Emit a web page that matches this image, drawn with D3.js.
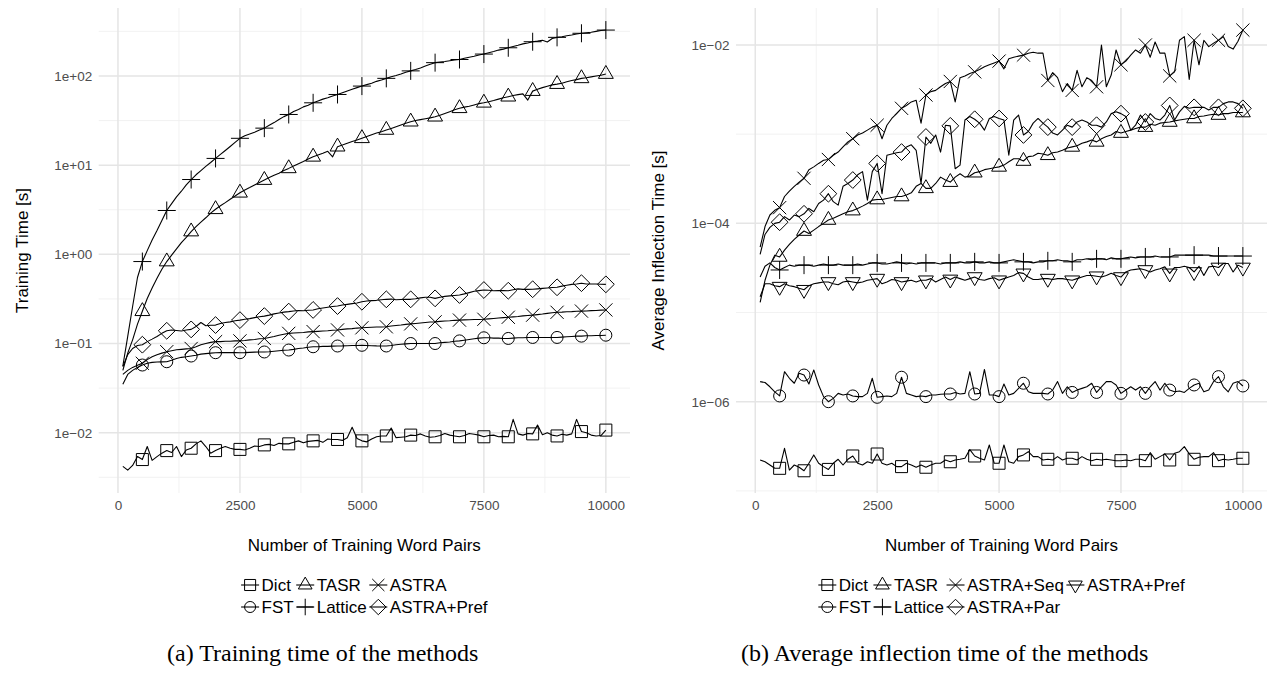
<!DOCTYPE html>
<html><head><meta charset="utf-8">
<script src="https://cdn.jsdelivr.net/npm/d3@7/dist/d3.min.js"></script>
<style>
html,body{margin:0;padding:0;background:#fff;}
svg{display:block;}
</style></head><body>
<svg id="chart" width="1270" height="673"></svg>
<script>
// ---------- DATA ----------
const trainingPairs = [100,200,300,400,500,600,700,800,900,1000,
1100,1200,1300,1400,1500,1600,1700,1800,1900,2000,
2100,2200,2300,2400,2500,2600,2700,2800,2900,3000,
3100,3200,3300,3400,3500,3600,3700,3800,3900,4000,
4100,4200,4300,4400,4500,4600,4700,4800,4900,5000,
5100,5200,5300,5400,5500,5600,5700,5800,5900,6000,
6100,6200,6300,6400,6500,6600,6700,6800,6900,7000,
7100,7200,7300,7400,7500,7600,7700,7800,7900,8000,
8100,8200,8300,8400,8500,8600,8700,8800,8900,9000,
9100,9200,9300,9400,9500,9600,9700,9800,9900,10000];

const xTicks = [0, 2500, 5000, 7500, 10000];
const xMinorTicks = [1250, 3750, 6250, 8750];

// (a) Training time [s]
const trainDict = [0.0042,0.0038,0.0043,0.0054,0.0050,0.0070,0.0049,0.0054,0.0059,0.0063,
0.0060,0.0070,0.0054,0.0064,0.0067,0.0075,0.0081,0.0070,0.0059,0.0063,
0.0067,0.0070,0.0067,0.0065,0.0065,0.0064,0.0067,0.0071,0.0070,0.0073,
0.0074,0.0072,0.0076,0.0075,0.0075,0.0078,0.0081,0.0077,0.0080,0.0081,
0.0082,0.0078,0.0085,0.0084,0.0084,0.0082,0.0088,0.0115,0.0086,0.0081,
0.0079,0.0085,0.0090,0.0092,0.0092,0.0113,0.0088,0.0089,0.0090,0.0094,
0.0093,0.0097,0.0092,0.0089,0.0090,0.0093,0.0098,0.0094,0.0092,0.0090,
0.0093,0.0098,0.0096,0.0094,0.0090,0.0093,0.0094,0.0090,0.0091,0.0090,
0.0141,0.0097,0.0094,0.0098,0.0097,0.0122,0.0095,0.0100,0.0094,0.0092,
0.0096,0.0094,0.0097,0.0141,0.0103,0.0100,0.0094,0.0092,0.0093,0.0107];
const trainTASR = [0.05,0.078,0.11,0.165,0.23,0.32,0.42,0.54,0.68,0.83,
0.98,1.15,1.35,1.55,1.8,2.04,2.3,2.57,2.9,3.2,
3.5,3.8,4.15,4.5,4.9,5.25,5.6,6.0,6.4,6.8,
7.25,7.7,8.1,8.7,9.2,9.8,10.4,11,11.7,12.4,
13,13.6,14.3,12.4,16.1,16.8,17.6,18.4,19.1,20,
20.9,21.9,22.9,23.7,24.8,25.7,26.9,28.2,29.5,30.7,
31.6,32.4,33.1,33.9,34.9,36.3,38,39.8,41.7,43.4,
44.7,45.7,47.3,49,50,51.3,53,55,56.9,58.5,
60.3,61.7,63,53.7,67.6,70.8,74,76.7,79.4,81,
83,86,89,91,94,95.5,97.7,100,102,105];
const trainASTRA = [0.045,0.05,0.054,0.057,0.06,0.066,0.071,0.075,0.078,0.081,
0.083,0.085,0.086,0.087,0.088,0.092,0.097,0.1,0.103,0.105,
0.105,0.106,0.106,0.107,0.107,0.108,0.11,0.111,0.113,0.114,
0.117,0.12,0.124,0.127,0.13,0.131,0.132,0.133,0.135,0.136,
0.137,0.138,0.139,0.141,0.142,0.144,0.146,0.147,0.149,0.15,
0.151,0.152,0.153,0.153,0.154,0.157,0.159,0.161,0.164,0.166,
0.168,0.17,0.172,0.174,0.175,0.177,0.179,0.18,0.182,0.183,
0.184,0.185,0.186,0.186,0.187,0.189,0.191,0.193,0.195,0.197,
0.199,0.201,0.204,0.206,0.208,0.211,0.214,0.218,0.221,0.224,
0.225,0.227,0.228,0.23,0.231,0.232,0.234,0.235,0.237,0.238];
const trainFST = [0.035,0.045,0.05,0.054,0.0574,0.06,0.0615,0.062,0.0622,0.0625,
0.065,0.068,0.07,0.071,0.0724,0.074,0.076,0.077,0.078,0.0789,
0.079,0.079,0.079,0.079,0.0789,0.079,0.0795,0.08,0.0802,0.0804,
0.081,0.082,0.083,0.084,0.0845,0.086,0.088,0.089,0.091,0.092,
0.092,0.093,0.093,0.0935,0.0938,0.094,0.0945,0.095,0.0952,0.0955,
0.095,0.0945,0.094,0.0938,0.0938,0.095,0.097,0.098,0.099,0.1,
0.1,0.1,0.1,0.1,0.1,0.102,0.103,0.104,0.106,0.107,
0.109,0.111,0.113,0.115,0.116,0.116,0.115,0.115,0.114,0.114,
0.115,0.116,0.116,0.117,0.117,0.117,0.117,0.117,0.117,0.117,
0.118,0.119,0.12,0.121,0.121,0.122,0.122,0.123,0.123,0.124];
const trainLattice = [0.056,0.12,0.26,0.55,0.83,1.1,1.45,1.85,2.4,3.1,
3.7,4.4,5.1,6.0,6.9,7.8,8.7,9.7,10.7,11.9,
13.2,14.6,16.2,18,20,21.4,22.4,23.4,24.8,26,
28,30,32.5,35,37,40,42,45,47,50,
52.5,55,57,59.5,62,65,68,71,74,77,
80,83,87,90,94,98,101,105,110,114,
118,123,129,135,141,143,145,148,151,153,
158,162,166,172,176,182,188,195,200,207,
214,221,229,234,242,246,251,240,263,271,
275,282,288,295,301,305,309,316,324,327];
const trainASTRAPref = [0.055,0.075,0.088,0.095,0.097,0.105,0.112,0.12,0.13,0.139,
0.142,0.14,0.138,0.142,0.144,0.155,0.172,0.158,0.16,0.161,
0.168,0.172,0.175,0.18,0.183,0.187,0.19,0.195,0.2,0.203,
0.208,0.215,0.22,0.225,0.228,0.232,0.235,0.233,0.236,0.238,
0.245,0.25,0.255,0.26,0.263,0.27,0.275,0.28,0.285,0.294,
0.3,0.303,0.305,0.31,0.313,0.315,0.31,0.312,0.313,0.313,
0.318,0.325,0.33,0.33,0.321,0.33,0.338,0.342,0.346,0.35,
0.36,0.372,0.385,0.392,0.398,0.395,0.39,0.392,0.392,0.391,
0.4,0.41,0.405,0.405,0.406,0.41,0.415,0.42,0.425,0.427,
0.44,0.45,0.46,0.465,0.475,0.465,0.465,0.465,0.462,0.461];

// (b) Average inflection time [s]
const inflDict = [2.22e-7,2.12e-7,1.95e-7,1.79e-7,1.79e-7,3.0e-7,1.71e-7,1.95e-7,1.84e-7,1.68e-7,
2.04e-7,2.53e-7,2.04e-7,1.87e-7,1.74e-7,2.04e-7,2.26e-7,1.95e-7,2.26e-7,2.46e-7,
2.04e-7,1.95e-7,2.12e-7,2.04e-7,2.59e-7,2.04e-7,1.95e-7,2.04e-7,1.87e-7,1.87e-7,
2.04e-7,1.95e-7,1.84e-7,1.95e-7,1.84e-7,1.95e-7,2.04e-7,2.04e-7,2.22e-7,2.12e-7,
2.22e-7,2.26e-7,2.32e-7,2.9e-7,2.46e-7,2.32e-7,2.22e-7,3.27e-7,2.04e-7,2.04e-7,
3.27e-7,2.12e-7,2.04e-7,2.42e-7,2.53e-7,2.75e-7,2.42e-7,2.42e-7,2.22e-7,2.26e-7,
2.22e-7,2.42e-7,2.22e-7,2.32e-7,2.32e-7,2.22e-7,2.42e-7,2.26e-7,2.18e-7,2.26e-7,
2.22e-7,2.26e-7,2.22e-7,2.18e-7,2.18e-7,2.22e-7,2.18e-7,2.26e-7,2.26e-7,2.18e-7,
2.68e-7,2.26e-7,2.42e-7,2.6e-7,2.22e-7,2.64e-7,2.75e-7,3.13e-7,2.6e-7,2.26e-7,
2.38e-7,2.42e-7,2.42e-7,2.68e-7,2.18e-7,2.26e-7,2.22e-7,2.26e-7,2.32e-7,2.32e-7];
const inflTASR = [1.3e-5,2.3e-5,3.4e-5,4.4e-5,4.2e-5,5.0e-5,5.8e-5,6.6e-5,7.4e-5,8.2e-5,
7.7e-5,8.4e-5,9.2e-5,1.0e-4,1.09e-4,1.14e-4,1.21e-4,1.28e-4,1.35e-4,1.39e-4,
1.47e-4,1.56e-4,1.67e-4,1.82e-4,1.85e-4,1.85e-4,1.9e-4,1.95e-4,2.0e-4,2.0e-4,
2.08e-4,2.2e-4,2.6e-4,2.8e-4,2.47e-4,2.47e-4,2.8e-4,3.3e-4,3.06e-4,2.9e-4,
3.3e-4,3.6e-4,3.3e-4,3.4e-4,3.7e-4,3.8e-4,4.0e-4,4.1e-4,4.2e-4,4.3e-4,
4.5e-4,4.9e-4,5.3e-4,5.3e-4,5.0e-4,5.6e-4,5.7e-4,6.1e-4,6.0e-4,5.8e-4,
6.2e-4,6.3e-4,6.6e-4,7.0e-4,7.2e-4,7.4e-4,7.9e-4,8.2e-4,8.6e-4,8.2e-4,
8.9e-4,9.4e-4,9.8e-4,1.07e-3,1.03e-3,1.07e-3,1.11e-3,1.16e-3,1.2e-3,1.2e-3,
1.29e-3,1.26e-3,1.33e-3,1.35e-3,1.37e-3,1.41e-3,1.44e-3,1.47e-3,1.5e-3,1.5e-3,
1.58e-3,1.6e-3,1.64e-3,1.67e-3,1.64e-3,1.7e-3,1.7e-3,1.75e-3,1.75e-3,1.75e-3];
const inflASTRASeq = [5.4e-5,9.2e-5,1.24e-4,1.4e-4,1.5e-4,2.0e-4,2.3e-4,2.6e-4,2.9e-4,3.2e-4,
4.0e-4,4.3e-4,4.7e-4,5.1e-4,5.2e-4,5.8e-4,6.3e-4,7.2e-4,8.2e-4,8.9e-4,
9.8e-4,1.03e-3,1.11e-3,1.2e-3,1.26e-3,8.9e-4,1.26e-3,1.5e-3,1.7e-3,1.95e-3,
2.1e-3,2.3e-3,2.4e-3,1.33e-3,2.75e-3,3.0e-3,3.1e-3,3.4e-3,3.7e-3,3.9e-3,
2.3e-3,4.3e-3,4.5e-3,4.8e-3,5.0e-3,5.3e-3,5.7e-3,6.0e-3,6.3e-3,6.6e-3,
5.4e-3,7.0e-3,7.3e-3,7.5e-3,7.7e-3,8.1e-3,8.3e-3,8.1e-3,8.1e-3,4.0e-3,
4.9e-3,4.3e-3,3.0e-3,3.7e-3,3.1e-3,5.2e-3,3.4e-3,4.3e-3,4.0e-3,3.4e-3,
1.0e-2,3.4e-3,4.6e-3,8.8e-3,6.0e-3,6.6e-3,7.7e-3,8.8e-3,8.1e-3,1.0e-2,
7.3e-3,1.08e-2,8.1e-3,8.1e-3,4.5e-3,5.0e-3,1.13e-2,1.24e-2,4.1e-3,1.13e-2,
6.0e-3,1.13e-2,9.6e-3,1.05e-2,1.13e-2,1.24e-2,9.6e-3,9.0e-3,1.1e-2,1.47e-2];
const inflASTRAPref = [1.5e-5,2.1e-5,2.1e-5,2.0e-5,1.95e-5,2.1e-5,2.0e-5,1.95e-5,1.87e-5,1.8e-5,
2.0e-5,2.1e-5,2.15e-5,2.2e-5,2.2e-5,2.1e-5,2.05e-5,2.2e-5,2.25e-5,2.2e-5,
2.15e-5,2.2e-5,2.3e-5,2.35e-5,2.4e-5,2.1e-5,2.2e-5,2.35e-5,2.3e-5,2.2e-5,
2.25e-5,2.3e-5,2.2e-5,2.3e-5,2.3e-5,2.4e-5,2.2e-5,2.35e-5,2.5e-5,2.35e-5,
2.5e-5,2.4e-5,2.3e-5,2.4e-5,2.5e-5,2.35e-5,2.3e-5,2.4e-5,2.45e-5,2.3e-5,
2.4e-5,2.5e-5,2.6e-5,2.8e-5,2.75e-5,2.5e-5,2.35e-5,2.35e-5,2.4e-5,2.4e-5,
2.35e-5,2.4e-5,2.4e-5,2.35e-5,2.3e-5,2.4e-5,2.5e-5,2.6e-5,2.6e-5,2.55e-5,
2.5e-5,2.6e-5,2.75e-5,2.6e-5,2.5e-5,2.85e-5,3.0e-5,3.05e-5,3.1e-5,3.0e-5,
2.85e-5,3.0e-5,3.1e-5,3.25e-5,2.75e-5,3.2e-5,3.2e-5,3.3e-5,3.2e-5,2.85e-5,
3.3e-5,2.6e-5,3.25e-5,3.3e-5,3.2e-5,3.55e-5,3.55e-5,2.85e-5,3.4e-5,3.2e-5];
const inflFST = [1.68e-6,1.64e-6,1.47e-6,1.29e-6,1.16e-6,2.17e-6,1.83e-6,1.61e-6,2.08e-6,1.99e-6,
1.58e-6,2.27e-6,1.54e-6,1.14e-6,1.0e-6,1.09e-6,1.24e-6,1.19e-6,1.22e-6,1.16e-6,
1.14e-6,1.14e-6,1.24e-6,1.83e-6,1.12e-6,1.14e-6,1.16e-6,1.14e-6,1.24e-6,1.88e-6,
1.24e-6,1.19e-6,1.14e-6,1.16e-6,1.14e-6,1.19e-6,1.19e-6,1.21e-6,1.22e-6,1.22e-6,
1.27e-6,1.22e-6,1.24e-6,2.17e-6,1.22e-6,1.24e-6,2.3e-6,1.19e-6,1.19e-6,1.14e-6,
1.58e-6,1.19e-6,1.24e-6,1.41e-6,1.61e-6,1.29e-6,1.24e-6,1.24e-6,1.24e-6,1.22e-6,
1.35e-6,1.68e-6,1.24e-6,1.47e-6,1.27e-6,1.35e-6,1.41e-6,1.47e-6,1.61e-6,1.27e-6,
1.47e-6,1.68e-6,1.68e-6,1.54e-6,1.24e-6,1.35e-6,1.47e-6,1.35e-6,1.47e-6,1.24e-6,
1.47e-6,1.68e-6,1.35e-6,1.61e-6,1.35e-6,1.29e-6,1.32e-6,1.27e-6,1.41e-6,1.54e-6,
1.61e-6,1.29e-6,1.35e-6,1.68e-6,1.91e-6,1.47e-6,1.29e-6,1.61e-6,1.68e-6,1.5e-6];
const inflLattice = [2.5e-5,3.3e-5,3.6e-5,3.2e-5,3.0e-5,3.2e-5,3.4e-5,3.3e-5,3.4e-5,3.4e-5,
3.4e-5,3.3e-5,3.4e-5,3.5e-5,3.4e-5,3.4e-5,3.5e-5,3.4e-5,3.4e-5,3.4e-5,
3.5e-5,3.4e-5,3.5e-5,3.6e-5,3.6e-5,3.5e-5,3.5e-5,3.6e-5,3.7e-5,3.6e-5,
3.5e-5,3.6e-5,3.5e-5,3.6e-5,3.6e-5,3.6e-5,3.6e-5,3.5e-5,3.6e-5,3.6e-5,
3.6e-5,3.7e-5,3.6e-5,3.6e-5,3.7e-5,3.6e-5,3.6e-5,3.7e-5,3.6e-5,3.6e-5,
3.7e-5,3.8e-5,3.9e-5,3.8e-5,3.7e-5,3.7e-5,3.6e-5,3.7e-5,3.7e-5,3.8e-5,
3.8e-5,3.9e-5,3.8e-5,3.8e-5,3.7e-5,3.9e-5,3.9e-5,4.0e-5,3.9e-5,4.0e-5,
4.0e-5,3.9e-5,4.1e-5,4.0e-5,4.0e-5,4.1e-5,4.2e-5,4.1e-5,4.2e-5,4.2e-5,
4.2e-5,4.3e-5,4.2e-5,4.2e-5,4.2e-5,4.4e-5,4.4e-5,4.4e-5,4.4e-5,4.4e-5,
4.4e-5,4.4e-5,4.4e-5,4.3e-5,4.3e-5,4.3e-5,4.3e-5,4.3e-5,4.3e-5,4.3e-5];
const inflASTRAPar = [4.5e-5,7.5e-5,9.0e-5,1.0e-4,1.03e-4,1.19e-4,1.09e-4,1.24e-4,1.19e-4,1.28e-4,
1.47e-4,1.35e-4,1.67e-4,1.82e-4,2.15e-4,1.75e-4,1.6e-4,2.6e-4,2.8e-4,3.06e-4,
3.5e-4,3.8e-4,1.82e-4,3.8e-4,4.7e-4,2.15e-4,5.8e-4,6.0e-4,6.2e-4,6.3e-4,
7.2e-4,7.6e-4,6.6e-4,2.8e-4,9.3e-4,7.9e-4,9.8e-4,6.3e-4,1.26e-3,1.24e-3,
4.1e-4,4.5e-4,1.44e-3,1.58e-3,1.47e-3,1.33e-3,1.11e-3,1.5e-3,1.58e-3,1.5e-3,
1.44e-3,5.8e-4,1.44e-3,1.64e-3,9.8e-4,1.07e-3,1.33e-3,1.5e-3,1.33e-3,1.2e-3,
1.03e-3,9.8e-4,1.11e-3,1.26e-3,1.2e-3,1.37e-3,1.44e-3,1.37e-3,1.26e-3,1.26e-3,
1.2e-3,1.37e-3,1.7e-3,1.78e-3,1.7e-3,1.58e-3,1.11e-3,1.26e-3,1.64e-3,1.37e-3,
1.7e-3,1.5e-3,1.44e-3,1.64e-3,2.1e-3,1.44e-3,1.78e-3,2.05e-3,1.95e-3,2.0e-3,
2.0e-3,2.0e-3,1.87e-3,2.0e-3,2.0e-3,2.2e-3,2.3e-3,2.3e-3,2.2e-3,1.95e-3];

const trainYTicks = [1e-2, 1e-1, 1, 10, 100];
const trainYMinor = [3.1623e-3, 3.1623e-2, 3.1623e-1, 3.1623, 31.623, 316.23];
const inflYTicks = [1e-6, 1e-4, 1e-2];
const inflYMinor = [1e-7, 1e-5, 1e-3];

// ---------- RENDER ----------
const svg = d3.select('#chart');
const SANS = '"Liberation Sans", Arial, Helvetica, sans-serif';
const SERIF = '"Liberation Serif", "Times New Roman", serif';

function shapePath(shape, cx, cy, k) {
  k = k || 1;
  const p = d3.path();
  if (shape === 'square') { const h = 6*k; p.rect(cx-h, cy-h, 2*h, 2*h); }
  else if (shape === 'circle') { const r = 6*k; p.moveTo(cx+r, cy); p.arc(cx, cy, r, 0, 2*Math.PI); p.closePath(); }
  else if (shape === 'triUp') { const r = 8.6*k, xc = 7.45*k, yc = 4.3*k;
    p.moveTo(cx, cy-r); p.lineTo(cx+xc, cy+yc); p.lineTo(cx-xc, cy+yc); p.closePath(); }
  else if (shape === 'triDown') { const r = 8.6*k, xc = 7.45*k, yc = 4.3*k;
    p.moveTo(cx, cy+r); p.lineTo(cx+xc, cy-yc); p.lineTo(cx-xc, cy-yc); p.closePath(); }
  else if (shape === 'diamond') { const h = 8.4*k;
    p.moveTo(cx, cy-h); p.lineTo(cx+h, cy); p.lineTo(cx, cy+h); p.lineTo(cx-h, cy); p.closePath(); }
  else if (shape === 'plus') { const h = 9*k;
    p.moveTo(cx-h, cy); p.lineTo(cx+h, cy); p.moveTo(cx, cy-h); p.lineTo(cx, cy+h); }
  else if (shape === 'cross') { const h = 6.6*k;
    p.moveTo(cx-h, cy-h); p.lineTo(cx+h, cy+h); p.moveTo(cx-h, cy+h); p.lineTo(cx+h, cy-h); }
  return p.toString();
}

function fmtExp(v) {
  const e = Math.round(Math.log10(v));
  return '1e' + (e < 0 ? '\u2212' : '+') + String(Math.abs(e)).padStart(2, '0');
}

const panelTop = 8, panelBottom = 493;

const panels = [
  {
    left: 98.7, right: 630,
    yDomain: [Math.pow(10, -2.676), Math.pow(10, 2.762)],
    yTicks: trainYTicks, yMinor: trainYMinor,
    yTitle: 'Training Time [s]', yTitleX: 22,
    series: [
      {name: 'Dict', shape: 'square', values: trainDict},
      {name: 'TASR', shape: 'triUp', values: trainTASR},
      {name: 'ASTRA', shape: 'cross', values: trainASTRA},
      {name: 'FST', shape: 'circle', values: trainFST},
      {name: 'Lattice', shape: 'plus', values: trainLattice},
      {name: 'ASTRA+Pref', shape: 'diamond', values: trainASTRAPref}
    ],
    legendRows: [[['Dict','square'],['TASR','triUp'],['ASTRA','cross']],
                 [['FST','circle'],['Lattice','plus'],['ASTRA+Pref','diamond']]],
    caption: '(a) Training time of the methods', captionX: 167
  },
  {
    left: 736, right: 1267,
    yDomain: [Math.pow(10, -7.024), Math.pow(10, -1.585)],
    yTicks: inflYTicks, yMinor: inflYMinor,
    yTitle: 'Average Inflection Time [s]', yTitleX: 658,
    series: [
      {name: 'Dict', shape: 'square', values: inflDict},
      {name: 'TASR', shape: 'triUp', values: inflTASR},
      {name: 'ASTRA+Seq', shape: 'cross', values: inflASTRASeq},
      {name: 'ASTRA+Pref', shape: 'triDown', values: inflASTRAPref},
      {name: 'FST', shape: 'circle', values: inflFST},
      {name: 'Lattice', shape: 'plus', values: inflLattice},
      {name: 'ASTRA+Par', shape: 'diamond', values: inflASTRAPar}
    ],
    legendRows: [[['Dict','square'],['TASR','triUp'],['ASTRA+Seq','cross'],['ASTRA+Pref','triDown']],
                 [['FST','circle'],['Lattice','plus'],['ASTRA+Par','diamond']]],
    caption: '(b) Average inflection time of the methods', captionX: 741
  }
];

function measure(text, size) {
  const t = svg.append('text').attr('font-family', SANS).attr('font-size', size).text(text);
  const w = t.node().getComputedTextLength();
  t.remove();
  return w;
}

panels.forEach(P => {
  const x = d3.scaleLinear().domain([-395, 10495]).range([P.left, P.right]);
  const y = d3.scaleLog().domain(P.yDomain).range([panelBottom, panelTop]);
  const g = svg.append('g');

  // grid
  const grid = g.append('g');
  grid.selectAll('.ymin').data(P.yMinor).join('line')
    .attr('x1', P.left).attr('x2', P.right).attr('y1', d => y(d)).attr('y2', d => y(d))
    .attr('stroke', '#f0f0f0').attr('stroke-width', 0.9);
  grid.selectAll('.xmin').data(xMinorTicks).join('line')
    .attr('y1', panelTop).attr('y2', panelBottom).attr('x1', d => x(d)).attr('x2', d => x(d))
    .attr('stroke', '#f0f0f0').attr('stroke-width', 0.9);
  grid.selectAll('.ymaj').data(P.yTicks).join('line')
    .attr('x1', P.left).attr('x2', P.right).attr('y1', d => y(d)).attr('y2', d => y(d))
    .attr('stroke', '#e5e5e5').attr('stroke-width', 1.5);
  grid.selectAll('.xmaj').data(xTicks).join('line')
    .attr('y1', panelTop).attr('y2', panelBottom).attr('x1', d => x(d)).attr('x2', d => x(d))
    .attr('stroke', '#e5e5e5').attr('stroke-width', 1.5);

  // axes
  const ax = g.append('g').attr('transform', `translate(0,${panelBottom})`)
    .call(d3.axisBottom(x).tickValues(xTicks).tickFormat(d3.format('d')).tickSize(0).tickPadding(7.5));
  const ay = g.append('g').attr('transform', `translate(${P.left},0)`)
    .call(d3.axisLeft(y).tickValues(P.yTicks).tickFormat(fmtExp).tickSize(0).tickPadding(6.5));
  [ax, ay].forEach(a => {
    a.select('.domain').remove();
    a.selectAll('text').attr('font-family', SANS).attr('font-size', 13.5).attr('fill', '#4d4d4d');
  });

  // lines + markers
  const line = d3.line().x((d, i) => x(trainingPairs[i])).y(d => y(d));
  P.series.forEach(s => {
    g.append('path').attr('d', line(s.values)).attr('fill', 'none')
      .attr('stroke', '#000').attr('stroke-width', 1.1).attr('stroke-linejoin', 'round');
    const pts = s.values.map((v, i) => [trainingPairs[i], v]).filter(d => d[0] % 500 === 0);
    g.selectAll(null).data(pts).join('path')
      .attr('d', d => shapePath(s.shape, x(d[0]), y(d[1])))
      .attr('fill', 'none').attr('stroke', '#000').attr('stroke-width', 1.0);
  });

  const cx = (P.left + P.right) / 2;
  // axis titles
  g.append('text').attr('x', cx).attr('y', 551).attr('text-anchor', 'middle')
    .attr('font-family', SANS).attr('font-size', 17).attr('fill', '#000')
    .text('Number of Training Word Pairs');
  g.append('text').attr('transform', `translate(${P.yTitleX},${(panelTop + panelBottom) / 2}) rotate(-90)`)
    .attr('text-anchor', 'middle').attr('dy', '0.35em')
    .attr('font-family', SANS).attr('font-size', 17).attr('fill', '#000')
    .text(P.yTitle);

  // legend
  const keyW = 18, gapKL = 2.5, colGap = 2.5, fs = 17;
  const nCols = d3.max(P.legendRows, r => r.length);
  const colW = d3.range(nCols).map(c => keyW + gapKL +
    d3.max(P.legendRows, r => r[c] ? measure(r[c][0], fs) : 0));
  const totalW = d3.sum(colW) + colGap * (nCols - 1);
  const startX = cx - totalW / 2;
  const rowY = [585, 607];
  P.legendRows.forEach((row, ri) => {
    let xx = startX;
    row.forEach((item, ci) => {
      const yy = rowY[ri];
      g.append('line').attr('x1', xx).attr('x2', xx + keyW).attr('y1', yy).attr('y2', yy)
        .attr('stroke', '#000').attr('stroke-width', 1.1);
      g.append('path').attr('d', shapePath(item[1], xx + keyW / 2, yy, 0.92))
        .attr('fill', 'none').attr('stroke', '#000').attr('stroke-width', 1.0);
      g.append('text').attr('x', xx + keyW + gapKL).attr('y', yy).attr('dy', '0.36em')
        .attr('font-family', SANS).attr('font-size', fs).attr('fill', '#000').text(item[0]);
      xx += colW[ci] + colGap;
    });
  });

  // caption
  g.append('text').attr('x', P.captionX).attr('y', 661)
    .attr('font-family', SERIF).attr('font-size', 24).attr('fill', '#000').text(P.caption);
});
</script>
</body></html>
